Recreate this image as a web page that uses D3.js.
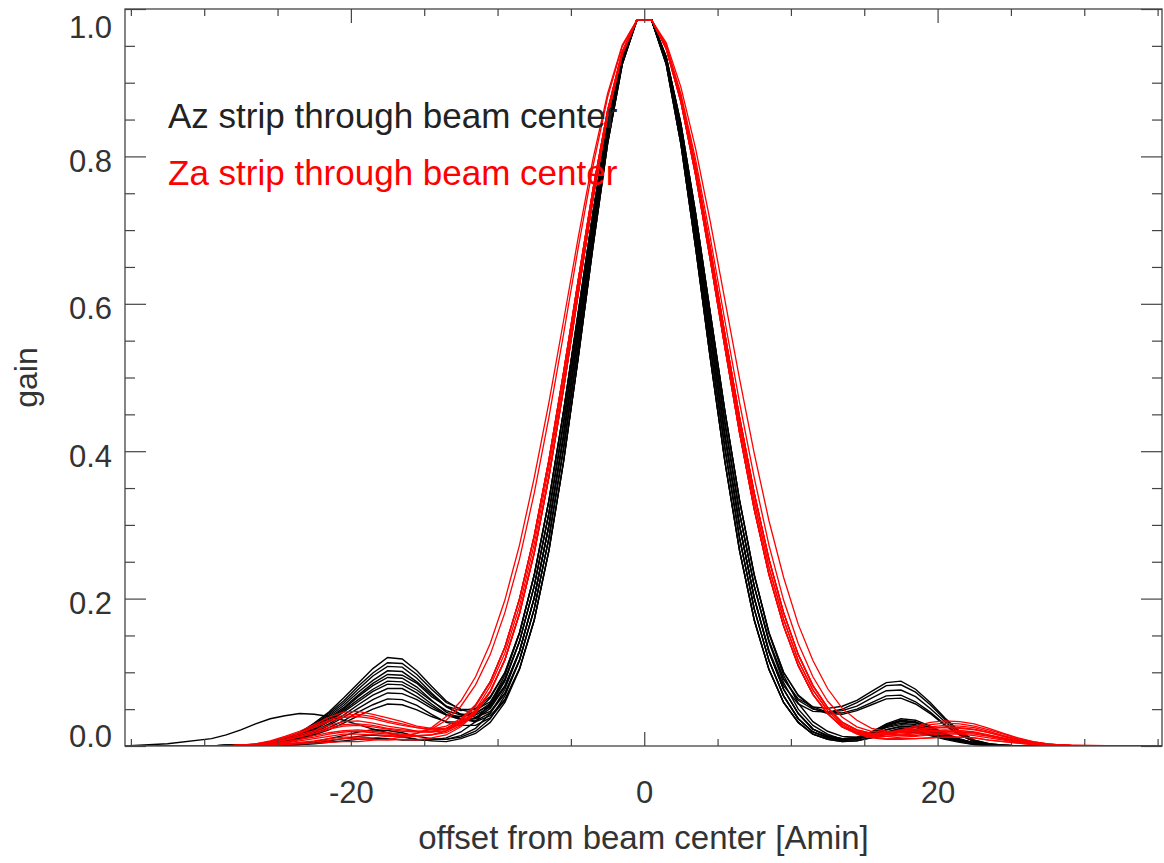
<!DOCTYPE html>
<html>
<head>
<meta charset="utf-8">
<script src="https://cdn.jsdelivr.net/npm/d3@7"></script>
<style>
  body { margin: 0; background: #fff; }
  text { font-family: "Liberation Sans", Arial, Helvetica, sans-serif; }
</style>
</head>
<body>
<div id="chart"></div>
<script>
// offset from beam center [Amin], shared by every strip
var offsets = [-35.4, -32.5, -29.5, -28.5, -27.5, -26.5, -25.5, -24.5, -23.5, -22.5, -21.5, -20.5, -19.5, -18.5, -17.5, -16.5,
    -15.5, -14.5, -13.5, -12.5, -11.5, -10.5, -9.5, -8.5, -7.5, -6.5, -5.5, -4.5, -3.5, -2.5, -1.5, -0.5,
    0.5, 1.5, 2.5, 3.5, 4.5, 5.5, 6.5, 7.5, 8.5, 9.5, 10.5, 11.5, 12.5, 13.5, 14.5, 15.5,
    16.5, 17.5, 18.5, 19.5, 20.5, 21.5, 22.5, 23.5, 24.5, 25.5, 26.5, 27.5, 28.5, 29.5, 32.5, 35.3];

// Az strips (black)
var azStrips = [
    [0, 0, 0, .001, .001, .002, .005, .010, .018, .031, .046, .065, .085, .105, .120, .118, .102, .081, .061, .049, .045, .055, .082, .129, .201, .299, .421, .559, .701, .831, .931, .985,
     .985, .931, .831, .701, .559, .421, .299, .201, .128, .077, .044, .023, .014, .010, .012, .019, .029, .035, .033, .025, .016, .009, .004, .001, 0, 0, 0, 0, 0, 0, 0, 0],
    [0, 0, 0, .001, .001, .002, .005, .009, .017, .029, .044, .061, .081, .099, .113, .112, .097, .077, .059, .050, .049, .060, .091, .142, .217, .316, .438, .574, .712, .837, .933, .985,
     .985, .933, .837, .712, .574, .438, .316, .217, .143, .091, .064, .053, .051, .054, .062, .074, .086, .088, .077, .059, .038, .020, .008, .003, .001, 0, 0, 0, 0, 0, 0, 0],
    [0, 0, 0, .001, .001, .002, .004, .009, .017, .028, .042, .058, .077, .095, .108, .107, .092, .072, .054, .043, .039, .047, .072, .117, .186, .282, .404, .543, .689, .824, .928, .985,
     .985, .928, .824, .689, .543, .404, .282, .186, .116, .068, .037, .019, .012, .008, .011, .017, .027, .033, .031, .024, .015, .009, .004, .001, 0, 0, 0, 0, 0, 0, 0, 0],
    [0, 0, 0, .001, .001, .002, .004, .008, .016, .026, .040, .055, .073, .089, .102, .101, .087, .070, .053, .043, .042, .053, .081, .129, .201, .299, .421, .559, .701, .831, .931, .985,
     .985, .931, .831, .701, .559, .421, .299, .201, .130, .082, .057, .047, .046, .050, .059, .070, .082, .083, .073, .056, .036, .019, .008, .003, .001, 0, 0, 0, 0, 0, 0, 0],
    [0, 0, 0, 0, .001, .002, .004, .008, .015, .025, .038, .052, .069, .085, .097, .096, .085, .067, .054, .048, .051, .067, .100, .154, .232, .333, .454, .588, .723, .844, .935, .985,
     .985, .935, .844, .723, .588, .454, .333, .232, .153, .096, .058, .033, .020, .013, .012, .017, .025, .029, .028, .021, .014, .008, .003, .001, 0, 0, 0, 0, 0, 0, 0, 0],
    [0, 0, 0, 0, .001, .002, .004, .008, .014, .024, .036, .050, .067, .082, .093, .092, .080, .062, .046, .037, .033, .041, .063, .105, .171, .265, .386, .527, .677, .817, .925, .985,
     .985, .925, .817, .677, .527, .386, .265, .171, .104, .059, .032, .016, .010, .008, .011, .019, .030, .037, .035, .027, .017, .010, .004, .002, 0, 0, 0, 0, 0, 0, 0, 0],
    [0, 0, 0, 0, .001, .002, .004, .007, .014, .023, .034, .048, .063, .077, .088, .087, .076, .061, .048, .042, .044, .058, .090, .142, .217, .316, .438, .574, .712, .837, .933, .985,
     .985, .933, .837, .712, .574, .438, .316, .217, .143, .091, .062, .050, .046, .048, .054, .065, .075, .076, .067, .051, .033, .017, .007, .002, .001, 0, 0, 0, 0, 0, 0, 0],
    [0, 0, 0, 0, .001, .002, .003, .007, .013, .022, .033, .046, .060, .074, .084, .083, .072, .057, .043, .036, .034, .045, .071, .117, .186, .282, .404, .543, .689, .824, .928, .985,
     .985, .928, .824, .689, .543, .404, .282, .186, .116, .068, .037, .019, .011, .007, .009, .014, .022, .026, .025, .019, .012, .007, .003, .001, 0, 0, 0, 0, 0, 0, 0, 0],
    [0, 0, 0, 0, .001, .002, .003, .006, .012, .020, .030, .042, .056, .069, .078, .078, .067, .054, .042, .036, .037, .051, .080, .129, .201, .299, .421, .559, .701, .831, .931, .985,
     .985, .931, .831, .701, .559, .421, .299, .201, .128, .077, .044, .023, .014, .010, .011, .017, .026, .031, .029, .022, .014, .008, .004, .001, 0, 0, 0, 0, 0, 0, 0, 0],
    [0, 0, 0, 0, .001, .001, .003, .006, .011, .018, .028, .039, .051, .063, .072, .071, .063, .051, .042, .040, .046, .065, .099, .154, .232, .333, .454, .588, .723, .844, .935, .985,
     .985, .935, .844, .723, .588, .454, .333, .232, .154, .100, .069, .053, .046, .045, .050, .059, .068, .069, .060, .046, .029, .015, .006, .002, .001, 0, 0, 0, 0, 0, 0, 0],
    [0, 0, 0, 0, .001, .001, .003, .005, .010, .016, .025, .034, .046, .056, .064, .063, .055, .043, .032, .028, .028, .038, .062, .105, .171, .265, .386, .527, .677, .817, .925, .985,
     .985, .925, .817, .677, .527, .386, .265, .171, .104, .059, .032, .016, .009, .006, .007, .012, .019, .024, .022, .017, .011, .006, .003, .001, 0, 0, 0, 0, 0, 0, 0, 0],
    [0, 0, 0, 0, .001, .001, .002, .005, .009, .015, .022, .031, .041, .050, .057, .056, .049, .040, .033, .032, .038, .055, .088, .142, .217, .316, .438, .574, .712, .837, .933, .985,
     .985, .933, .837, .712, .574, .438, .316, .217, .141, .086, .050, .028, .016, .009, .008, .011, .016, .020, .018, .014, .009, .005, .002, .001, 0, 0, 0, 0, 0, 0, 0, 0],
    [0, 0, 0, 0, 0, 0, .001, .002, .003, .006, .010, .014, .019, .022, .021, .018, .013, .010, .009, .012, .020, .037, .068, .116, .186, .282, .404, .543, .689, .824, .928, .985,
     .985, .928, .824, .689, .543, .404, .282, .186, .116, .068, .037, .019, .012, .008, .011, .018, .028, .034, .032, .025, .016, .009, .004, .001, 0, 0, 0, 0, 0, 0, 0, 0],
    [0, 0, 0, 0, 0, 0, 0, .001, .002, .004, .007, .010, .013, .015, .014, .012, .009, .009, .009, .014, .024, .044, .077, .128, .201, .299, .421, .559, .701, .831, .931, .985,
     .985, .931, .831, .701, .559, .421, .299, .201, .128, .077, .044, .023, .013, .009, .010, .015, .022, .027, .026, .020, .013, .007, .003, .001, 0, 0, 0, 0, 0, 0, 0, 0],
    [0, .003, .010, .015, .022, .030, .037, .041, .044, .043, .040, .035, .029, .023, .018, .013, .009, .007, .006, .010, .017, .032, .059, .104, .171, .265, .386, .527, .677, .817, .925, .985,
     .985, .925, .817, .677, .527, .386, .265, .171, .104, .059, .032, .016, .009, .006, .007, .011, .018, .022, .020, .015, .010, .006, .002, .001, 0, 0, 0, 0, 0, 0, 0, 0],
    [0, 0, 0, 0, 0, 0, 0, .001, .002, .003, .005, .007, .009, .010, .010, .008, .008, .008, .011, .019, .033, .058, .096, .153, .232, .333, .454, .588, .723, .844, .935, .985,
     .985, .935, .844, .723, .588, .454, .333, .232, .154, .100, .068, .051, .044, .043, .048, .056, .064, .065, .057, .044, .028, .015, .006, .002, .001, 0, 0, 0, 0, 0, 0, 0]
];

// Za strips (red)
var zaStrips = [
    [0, 0, 0, 0, .001, .003, .007, .013, .020, .029, .039, .046, .047, .043, .038, .033, .027, .024, .024, .032, .047, .074, .117, .180, .262, .365, .485, .614, .742, .855, .939, .985,
     .985, .946, .874, .775, .660, .541, .425, .321, .233, .163, .109, .070, .044, .026, .018, .015, .018, .022, .027, .032, .034, .033, .030, .024, .017, .011, .006, .003, .001, .001, 0, 0],
    [0, 0, 0, 0, .001, .002, .006, .011, .017, .025, .033, .039, .040, .037, .032, .028, .025, .023, .027, .037, .056, .087, .134, .200, .285, .388, .507, .632, .755, .862, .942, .985,
     .985, .949, .880, .786, .676, .559, .446, .343, .254, .181, .124, .082, .052, .032, .022, .017, .017, .020, .022, .026, .028, .027, .025, .020, .014, .009, .005, .003, .001, 0, 0, 0],
    [0, 0, 0, 0, .001, .002, .005, .009, .015, .021, .028, .033, .034, .031, .027, .024, .020, .019, .021, .030, .046, .074, .117, .180, .262, .365, .485, .614, .742, .855, .939, .985,
     .985, .949, .880, .786, .676, .559, .446, .343, .254, .181, .124, .082, .052, .032, .021, .016, .015, .016, .018, .021, .022, .021, .019, .015, .011, .007, .004, .002, .001, 0, 0, 0],
    [0, 0, 0, 0, .001, .002, .004, .008, .012, .017, .023, .027, .028, .026, .023, .020, .019, .019, .024, .035, .055, .087, .134, .200, .285, .388, .507, .632, .755, .862, .942, .985,
     .985, .946, .874, .775, .660, .541, .425, .321, .233, .163, .109, .070, .044, .026, .018, .015, .016, .021, .025, .029, .031, .030, .027, .022, .016, .010, .006, .003, .001, 0, 0, 0],
    [0, 0, 0, 0, 0, .001, .003, .006, .009, .014, .018, .021, .022, .020, .018, .016, .014, .015, .018, .028, .046, .074, .117, .180, .262, .365, .485, .614, .742, .855, .939, .985,
     .985, .946, .874, .775, .660, .541, .425, .321, .233, .163, .109, .070, .044, .026, .017, .012, .010, .012, .013, .015, .016, .016, .014, .011, .008, .005, .003, .001, .001, 0, 0, 0],
    [0, 0, 0, 0, 0, .001, .002, .004, .007, .010, .013, .016, .016, .015, .014, .012, .013, .015, .021, .033, .054, .086, .134, .200, .285, .388, .507, .632, .755, .862, .942, .985,
     .985, .949, .880, .786, .676, .559, .446, .343, .254, .181, .124, .082, .052, .032, .022, .017, .016, .018, .020, .024, .025, .024, .022, .018, .013, .008, .005, .002, .001, 0, 0, 0],
    [0, 0, 0, 0, 0, 0, .001, .003, .004, .006, .008, .010, .010, .009, .008, .009, .008, .011, .015, .026, .044, .073, .117, .180, .262, .365, .485, .614, .742, .855, .939, .985,
     .985, .946, .874, .775, .660, .541, .425, .321, .233, .163, .109, .070, .044, .026, .016, .011, .009, .009, .010, .011, .012, .012, .011, .008, .006, .004, .002, .001, 0, 0, 0, 0],
    [0, 0, 0, 0, 0, 0, 0, .002, .003, .004, .005, .006, .006, .008, .009, .012, .017, .025, .040, .061, .094, .139, .198, .273, .364, .466, .577, .690, .796, .885, .951, .985,
     .985, .954, .894, .811, .712, .605, .498, .397, .306, .229, .165, .116, .078, .051, .035, .024, .020, .019, .020, .021, .020, .019, .018, .014, .010, .006, .004, .002, .001, 0, 0, 0],
    [0, 0, 0, 0, 0, 0, .002, .003, .005, .007, .010, .012, .012, .011, .013, .014, .017, .023, .035, .054, .083, .124, .181, .254, .343, .446, .559, .676, .786, .880, .949, .985,
     .985, .951, .885, .796, .690, .577, .466, .364, .273, .198, .139, .094, .061, .039, .026, .020, .018, .020, .023, .024, .026, .025, .023, .018, .013, .008, .005, .002, .001, 0, 0, 0],
    [0, 0, 0, 0, .001, .003, .006, .012, .018, .027, .035, .042, .043, .040, .034, .030, .025, .022, .023, .031, .047, .074, .117, .180, .262, .365, .485, .614, .742, .855, .939, .985,
     .985, .949, .880, .786, .676, .559, .446, .343, .254, .181, .124, .082, .052, .032, .021, .015, .013, .014, .014, .017, .018, .017, .016, .013, .009, .006, .003, .002, .001, 0, 0, 0],
    [0, 0, 0, 0, 0, .001, .003, .005, .009, .012, .016, .019, .020, .018, .016, .015, .014, .015, .020, .031, .049, .081, .126, .190, .274, .378, .496, .624, .749, .859, .941, .985,
     .985, .948, .877, .780, .668, .550, .436, .332, .243, .172, .116, .076, .048, .029, .019, .013, .013, .015, .016, .019, .020, .019, .018, .014, .010, .006, .004, .002, .001, 0, 0, 0],
    [0, 0, 0, 0, .001, .002, .004, .008, .013, .019, .025, .029, .030, .028, .024, .022, .020, .020, .024, .035, .055, .087, .134, .200, .285, .388, .507, .632, .755, .862, .942, .985,
     .985, .948, .877, .780, .668, .550, .436, .332, .243, .172, .116, .076, .048, .029, .018, .012, .010, .010, .010, .011, .012, .012, .011, .008, .006, .004, .002, .001, 0, 0, 0, 0]
];

var xMajorTicks = [-20, 0, 20];
var xMinorTicks = [-35, -30, -25, -15, -10, -5, 5, 10, 15, 25, 30, 35];
var yMajorTicks = [0, 0.2, 0.4, 0.6, 0.8, 1.0];
var yMinorTicks = [0.05, 0.1, 0.15, 0.25, 0.3, 0.35, 0.45, 0.5, 0.55, 0.65, 0.7, 0.75, 0.85, 0.9, 0.95];
var legendLabels = ["Az strip through beam center", "Za strip through beam center"];
var legendColors = ["#222", "#ff0000"];

var box = { left: 125, right: 1162, top: 9, bottom: 746 };
var axisColor = "#444";
var textColor = "#333";

var svg = d3.select("#chart").append("svg")
    .attr("width", 1164)
    .attr("height", 863);

var x = d3.scaleLinear()
    .domain([-35.4, 35.3])
    .range([box.left, box.right]);

var y = d3.scaleLinear()
    .domain([0, 1])
    .range([box.bottom, box.top]);

svg.append("clipPath")
    .attr("id", "plot-clip")
    .append("rect")
    .attr("x", box.left)
    .attr("y", box.top)
    .attr("width", box.right - box.left)
    .attr("height", box.bottom - box.top);

var valueline = d3.line()
    .x(function (d, i) {
        return x(offsets[i]);
    })
    .y(function (d) {
        return y(d);
    });

var curves = svg.append("g").attr("clip-path", "url(#plot-clip)");

curves.selectAll("path.az")
    .data(azStrips)
    .enter()
    .append("path")
    .attr("class", "az")
    .attr("d", valueline)
    .attr("fill", "none")
    .attr("stroke", "#000")
    .attr("stroke-width", 1.4);

curves.selectAll("path.za")
    .data(zaStrips)
    .enter()
    .append("path")
    .attr("class", "za")
    .attr("d", valueline)
    .attr("fill", "none")
    .attr("stroke", "#ff0000")
    .attr("stroke-width", 1.3);

// axes: ticks point inward on all four sides
function styleAxis(g) {
    g.select(".domain").remove();
    g.selectAll("line").attr("stroke", axisColor).attr("stroke-width", 1.2);
}

function plainNumber(d) {
    return String(d);
}

svg.append("g")
    .attr("transform", "translate(0," + box.bottom + ")")
    .call(d3.axisBottom(x).tickValues(xMinorTicks).tickSize(-7).tickFormat(""))
    .call(styleAxis);

var xAxis = svg.append("g")
    .attr("transform", "translate(0," + box.bottom + ")")
    .call(d3.axisBottom(x).tickValues(xMajorTicks).tickSize(-14).tickFormat(plainNumber))
    .call(styleAxis);

xAxis.selectAll("text")
    .attr("y", 57)
    .attr("dy", null)
    .attr("fill", textColor)
    .style("font-size", "31px");

svg.append("g")
    .attr("transform", "translate(0," + box.top + ")")
    .call(d3.axisTop(x).tickValues(xMinorTicks).tickSize(-7).tickFormat(""))
    .call(styleAxis);

svg.append("g")
    .attr("transform", "translate(0," + box.top + ")")
    .call(d3.axisTop(x).tickValues(xMajorTicks).tickSize(-14).tickFormat(""))
    .call(styleAxis);

svg.append("g")
    .attr("transform", "translate(" + box.left + ",0)")
    .call(d3.axisLeft(y).tickValues(yMinorTicks).tickSize(-10).tickFormat(""))
    .call(styleAxis);

var yAxis = svg.append("g")
    .attr("transform", "translate(" + box.left + ",0)")
    .call(d3.axisLeft(y).tickValues(yMajorTicks).tickSize(-21).tickFormat(d3.format(".1f")))
    .call(styleAxis);

yAxis.selectAll("text")
    .attr("x", -13)
    .attr("dy", null)
    .attr("y", function (d) {
        if (d === 0) return 0;
        if (d === 1) return 28.5;
        return 14.9;
    })
    .attr("fill", textColor)
    .style("font-size", "31px");

svg.append("g")
    .attr("transform", "translate(" + box.right + ",0)")
    .call(d3.axisRight(y).tickValues(yMinorTicks).tickSize(-10).tickFormat(""))
    .call(styleAxis);

svg.append("g")
    .attr("transform", "translate(" + box.right + ",0)")
    .call(d3.axisRight(y).tickValues(yMajorTicks).tickSize(-21).tickFormat(""))
    .call(styleAxis);

// frame
svg.append("rect")
    .attr("x", box.left)
    .attr("y", box.top)
    .attr("width", box.right - box.left)
    .attr("height", box.bottom - box.top)
    .attr("fill", "none")
    .attr("stroke", axisColor)
    .attr("stroke-width", 1.3);

// titles
svg.append("text")
    .attr("x", (box.left + box.right) / 2)
    .attr("y", 849)
    .attr("text-anchor", "middle")
    .attr("fill", textColor)
    .style("font-size", "33px")
    .text("offset from beam center [Amin]");

svg.append("text")
    .attr("transform", "translate(37," + (box.top + box.bottom) / 2 + ") rotate(-90)")
    .attr("text-anchor", "middle")
    .attr("fill", textColor)
    .style("font-size", "32px")
    .text("gain");

// legend
svg.selectAll("text.legend")
    .data(legendLabels)
    .enter()
    .append("text")
    .attr("class", "legend")
    .attr("x", 168)
    .attr("y", function (d, i) {
        return 128 + i * 57;
    })
    .attr("fill", function (d, i) {
        return legendColors[i];
    })
    .style("font-size", "35px")
    .text(function (d) {
        return d;
    });
</script>
</body>
</html>
